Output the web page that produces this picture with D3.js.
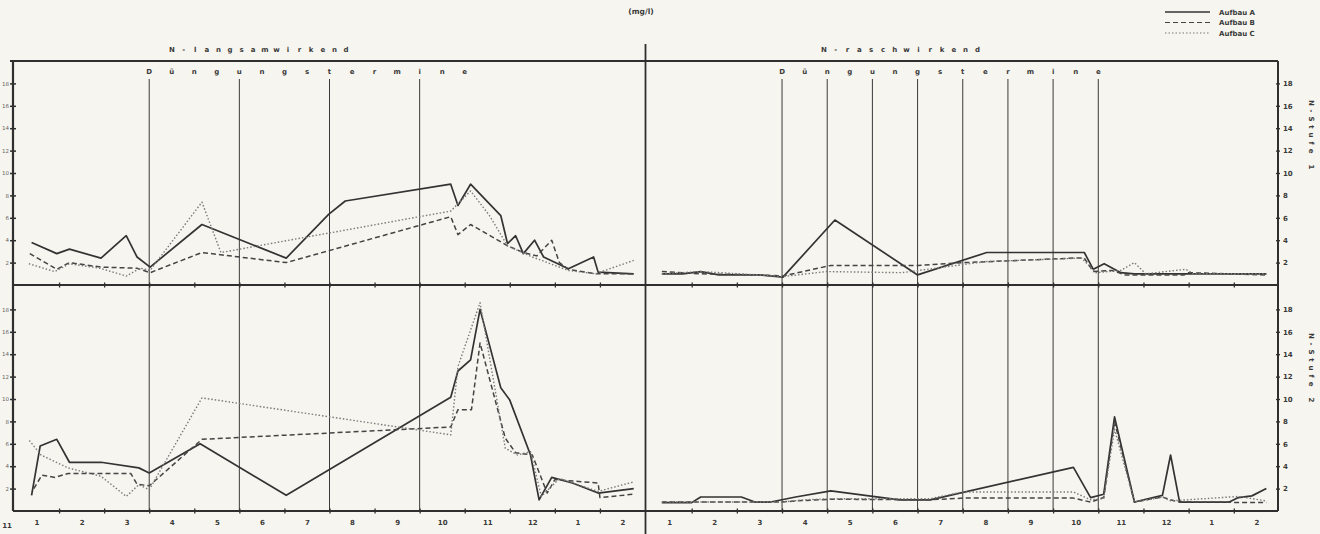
<!DOCTYPE html>
<html>
<head>
<meta charset="utf-8">
<script src="https://cdn.jsdelivr.net/npm/d3@7"></script>
<style>
body { margin: 0; background: #f7f5ef; }
svg { display: block; }
text { font-family: "DejaVu Sans", sans-serif; fill: #3a3a3a; }
</style>
</head>
<body>
<div id="chart"></div>
<script>
// month labels (Jan .. Feb of the next year), y ticks, fertiliser dates
var monthLabels = ["1", "2", "3", "4", "5", "6", "7", "8", "9", "10", "11", "12", "1", "2"];
var yTicks = [2, 4, 6, 8, 10, 12, 14, 16, 18];
var termineLeft = [3, 5, 7, 9];
var termineRight = [3, 4, 5, 6, 7, 8, 9, 10];
var seriesNames = ["Aufbau A", "Aufbau B", "Aufbau C"];

// [month position, mg/l]
// N-langsamwirkend, N-Stufe 1
var langS1A = [[0.39,3.8],[0.95,2.8],[1.23,3.2],[1.93,2.4],[2.49,4.4],[2.73,2.5],[3.02,1.6],[4.17,5.4],[6.04,2.4],[6.98,6.3],[7.35,7.5],[9.69,9.0],[9.85,7.1],[10.13,9.0],[10.8,6.2],[10.95,3.7],[11.13,4.4],[11.3,2.8],[11.55,4.0],[11.75,2.5],[12.3,1.45],[12.86,2.5],[12.96,1.15],[13.75,1.0]];
var langS1B = [[0.35,2.8],[0.95,1.4],[1.23,2.0],[1.93,1.6],[2.73,1.5],[3.02,1.1],[4.17,2.9],[6.04,2.0],[9.69,6.1],[9.85,4.5],[10.13,5.4],[10.95,3.5],[11.3,2.9],[11.6,2.6],[11.93,4.0],[12.1,2.0],[12.3,1.4],[12.9,1.0],[13.75,1.0]];
var langS1C = [[0.33,1.9],[0.9,1.2],[1.23,1.9],[1.9,1.5],[2.49,0.8],[2.8,1.5],[3.02,1.3],[4.17,7.4],[4.59,2.9],[9.69,6.6],[10.13,8.4],[10.55,6.2],[10.95,3.5],[11.5,2.5],[12.3,1.3],[12.9,1.0],[13.75,2.2]];
// N-raschwirkend, N-Stufe 1
var raschS1A = [[0.34,1.0],[0.8,1.0],[1.2,1.2],[1.6,0.9],[2.5,0.9],[3.02,0.7],[4.17,5.8],[6.0,0.9],[7.53,2.9],[9.69,2.9],[9.89,1.4],[10.13,1.9],[10.5,1.1],[10.8,1.0],[13.72,1.0]];
var raschS1B = [[0.34,1.2],[1.2,1.0],[2.5,0.9],[3.02,0.8],[4.08,1.75],[6.0,1.75],[7.05,2.0],[9.45,2.4],[9.69,2.4],[9.89,1.2],[10.3,1.3],[10.6,0.9],[11.9,0.9],[12.0,1.1],[13.72,0.9]];
var raschS1C = [[0.34,1.0],[1.2,1.2],[2.5,0.9],[3.02,0.75],[3.98,1.2],[5.65,1.1],[7.53,2.1],[9.63,2.4],[9.95,1.1],[10.5,1.3],[10.8,2.0],[11.05,1.0],[11.94,1.4],[12.1,1.0],[13.72,1.0]];
// N-langsamwirkend, N-Stufe 2
var langS2A = [[0.39,1.4],[0.58,5.8],[0.95,6.4],[1.23,4.35],[1.93,4.35],[2.77,3.85],[3.0,3.4],[4.13,6.0],[6.04,1.4],[9.69,10.15],[9.85,12.5],[10.13,13.5],[10.34,18.0],[10.8,11.0],[11.0,9.9],[11.46,5.0],[11.65,1.0],[11.93,3.0],[12.39,2.5],[12.96,1.6],[13.75,2.0]];
var langS2B = [[0.44,2.0],[0.62,3.2],[0.91,3.0],[1.2,3.35],[2.59,3.35],[2.73,2.4],[3.0,2.25],[4.17,6.4],[9.69,7.5],[9.85,9.05],[10.15,9.05],[10.34,15.0],[10.9,6.5],[11.13,5.2],[11.5,5.0],[11.83,1.6],[12.0,2.8],[12.96,2.5],[13.0,1.2],[13.75,1.5]];
var langS2C = [[0.34,6.3],[0.6,5.0],[1.2,3.85],[1.93,3.1],[2.49,1.3],[2.77,2.35],[3.0,1.9],[4.17,10.1],[9.69,6.8],[9.85,12.9],[10.34,18.6],[10.9,5.6],[11.17,5.0],[11.46,5.3],[11.7,1.3],[12.1,2.9],[12.96,1.75],[13.75,2.6]];
// N-raschwirkend, N-Stufe 2
var raschS2A = [[0.34,0.75],[1.0,0.75],[1.2,1.25],[2.1,1.25],[2.4,0.8],[2.75,0.8],[3.3,1.25],[4.08,1.8],[5.6,1.0],[6.28,1.0],[9.45,3.9],[9.83,1.2],[10.12,1.5],[10.36,8.4],[10.8,0.8],[11.42,1.4],[11.6,5.0],[11.8,0.8],[12.9,0.8],[13.1,1.2],[13.4,1.35],[13.72,2.0]];
var raschS2B = [[0.34,0.8],[2.99,0.8],[3.3,0.9],[4.08,1.05],[6.28,1.0],[7.0,1.15],[9.45,1.15],[9.83,0.8],[10.12,1.2],[10.36,8.0],[10.8,0.8],[11.42,1.25],[11.6,1.0],[11.8,0.8],[13.72,0.75]];
var raschS2C = [[0.34,0.8],[2.99,0.8],[3.5,1.0],[4.08,1.1],[6.28,1.1],[7.0,1.7],[9.45,1.7],[9.83,1.0],[10.12,1.1],[10.36,7.3],[10.8,0.8],[11.42,1.25],[11.6,0.9],[13.1,1.3],[13.72,0.9]];

var width = 1320,
    height = 534;

var svg = d3.select("#chart")
    .append("svg")
    .attr("width", width)
    .attr("height", height);

var ink = "#2f2f2f";

var xLeft = d3.scaleLinear().domain([0, 14]).range([14, 645]);
var xRight = d3.scaleLinear().domain([0, 14]).range([646.5, 1279]);
var yTop = d3.scaleLinear().domain([0, 20]).range([285, 61]);
var yBot = d3.scaleLinear().domain([0, 20]).range([511, 287]);

var styles = [
    {width: 1.7, color: "#333", dash: null},
    {width: 1.5, color: "#444", dash: "5,3"},
    {width: 1.4, color: "#7a7a7a", dash: "1.5,2"}
];

function spacedText(g, str, x0, step, y, size) {
    g.selectAll(null)
        .data(str.split(""))
        .join("text")
        .attr("x", function (d, i) { return x0 + i * step; })
        .attr("y", y)
        .attr("text-anchor", "middle")
        .style("font-size", size + "px")
        .style("font-weight", "bold")
        .text(function (d) { return d; });
}

// header
svg.append("text")
    .attr("x", 641).attr("y", 14)
    .attr("text-anchor", "middle")
    .style("font-size", "7.5px")
    .style("font-weight", "bold")
    .text("(mg/l)");

spacedText(svg.append("g"), "N-langsamwirkend", 172, 11.6, 52, 7);
spacedText(svg.append("g"), "N-raschwirkend", 824, 11.8, 52, 7);

// legend
var legend = svg.append("g");
seriesNames.forEach(function (name, i) {
    var y = 12 + i * 10.5;
    legend.append("line")
        .attr("x1", 1165).attr("x2", 1210)
        .attr("y1", y).attr("y2", y)
        .style("stroke", styles[i].color)
        .style("stroke-width", styles[i].width - 0.3)
        .style("stroke-dasharray", styles[i].dash);
    legend.append("text")
        .attr("x", 1219).attr("y", y + 2.5)
        .style("font-size", "7px")
        .style("font-weight", "bold")
        .text(name);
});

// panels
var panels = [
    {x: xLeft, y: yTop, data: [langS1A, langS1B, langS1C]},
    {x: xRight, y: yTop, data: [raschS1A, raschS1B, raschS1C]},
    {x: xLeft, y: yBot, data: [langS2A, langS2B, langS2C]},
    {x: xRight, y: yBot, data: [raschS2A, raschS2B, raschS2C]}
];

// fertiliser dates
[[xLeft, termineLeft], [xRight, termineRight]].forEach(function (p) {
    var x = p[0];
    svg.append("g")
        .selectAll("line")
        .data(p[1])
        .join("line")
        .attr("x1", function (d) { return x(d); })
        .attr("x2", function (d) { return x(d); })
        .attr("y1", 79)
        .attr("y2", 511)
        .style("stroke", "#3a3a3a")
        .style("stroke-width", 1);
    spacedText(svg.append("g"), "Düngungstermine", x(3), (x(1) - x(0)) / 2, 74, 7);
});

// data lines
panels.forEach(function (p) {
    var line = d3.line()
        .x(function (d) { return p.x(d[0]); })
        .y(function (d) { return p.y(d[1]); });
    p.data.forEach(function (series, i) {
        svg.append("path")
            .datum(series)
            .attr("d", line)
            .style("fill", "none")
            .style("stroke", styles[i].color)
            .style("stroke-width", styles[i].width)
            .style("stroke-dasharray", styles[i].dash)
            .style("stroke-linejoin", "round");
    });
});

// month boundary ticks on middle and bottom lines
var bounds = d3.range(1, 14);
[285, 511].forEach(function (yy) {
    [xLeft, xRight].forEach(function (x) {
        svg.append("g")
            .attr("transform", "translate(0," + (yy - 2.5) + ")")
            .call(d3.axisBottom(x).tickValues(bounds).tickSize(5).tickFormat(""))
            .call(function (g) {
                g.select(".domain").remove();
                g.selectAll(".tick line").style("stroke", ink).style("stroke-width", 1.3);
            });
    });
});

// month labels
[xLeft, xRight].forEach(function (x) {
    svg.append("g")
        .attr("transform", "translate(0,518)")
        .call(d3.axisBottom(x)
            .tickValues(d3.range(0.5, 14, 1))
            .tickSize(0)
            .tickPadding(2)
            .tickFormat(function (d, i) { return monthLabels[i]; }))
        .call(function (g) {
            g.select(".domain").remove();
            g.selectAll("text")
                .style("font-size", "7px")
                .style("font-weight", "bold")
                .style("font-family", "DejaVu Sans, sans-serif")
                .style("fill", "#3a3a3a");
        });
});
svg.append("text")
    .attr("x", 7).attr("y", 528)
    .attr("text-anchor", "middle")
    .style("font-size", "7px")
    .style("font-weight", "bold")
    .text("11");

// y axes
[yTop, yBot].forEach(function (y) {
    svg.append("g")
        .attr("transform", "translate(16,0)")
        .call(d3.axisLeft(y).tickValues(yTicks).tickSize(6).tickPadding(1))
        .call(function (g) {
            g.select(".domain").remove();
            g.selectAll(".tick line").style("stroke", ink).style("stroke-width", 1.5);
            g.selectAll("text")
                .style("font-size", "5.5px")
                .style("font-family", "DejaVu Sans, sans-serif")
                .style("fill", "#666");
        });
    svg.append("g")
        .attr("transform", "translate(1276,0)")
        .call(d3.axisRight(y).tickValues(yTicks).tickSize(4).tickPadding(3))
        .call(function (g) {
            g.select(".domain").remove();
            g.selectAll(".tick line").style("stroke", ink).style("stroke-width", 1.3);
            g.selectAll("text")
                .style("font-size", "7px")
                .style("font-weight", "bold")
                .style("font-family", "DejaVu Sans, sans-serif")
                .style("fill", "#3a3a3a");
        });
});

// side labels
[["N-Stufe 1", 103], ["N-Stufe 2", 336]].forEach(function (s) {
    var g = svg.append("g")
        .attr("transform", "translate(1309," + s[1] + ") rotate(90)");
    spacedText(g, s[0], 0, 8, 0, 7);
});

// frame
var frame = svg.append("g")
    .style("stroke", ink)
    .style("fill", "none");
frame.append("line").attr("x1", 10).attr("x2", 1278).attr("y1", 61).attr("y2", 61).style("stroke-width", 2);
frame.append("line").attr("x1", 13).attr("x2", 1278).attr("y1", 285).attr("y2", 285).style("stroke-width", 2);
frame.append("line").attr("x1", 13).attr("x2", 1278).attr("y1", 511).attr("y2", 511).style("stroke-width", 2);
frame.append("line").attr("x1", 13).attr("x2", 13).attr("y1", 61).attr("y2", 511).style("stroke-width", 2.2);
frame.append("line").attr("x1", 1278).attr("x2", 1278).attr("y1", 61).attr("y2", 511).style("stroke-width", 2);
frame.append("line").attr("x1", 645.5).attr("x2", 645.5).attr("y1", 44).attr("y2", 534).style("stroke-width", 1.8);
</script>
</body>
</html>
